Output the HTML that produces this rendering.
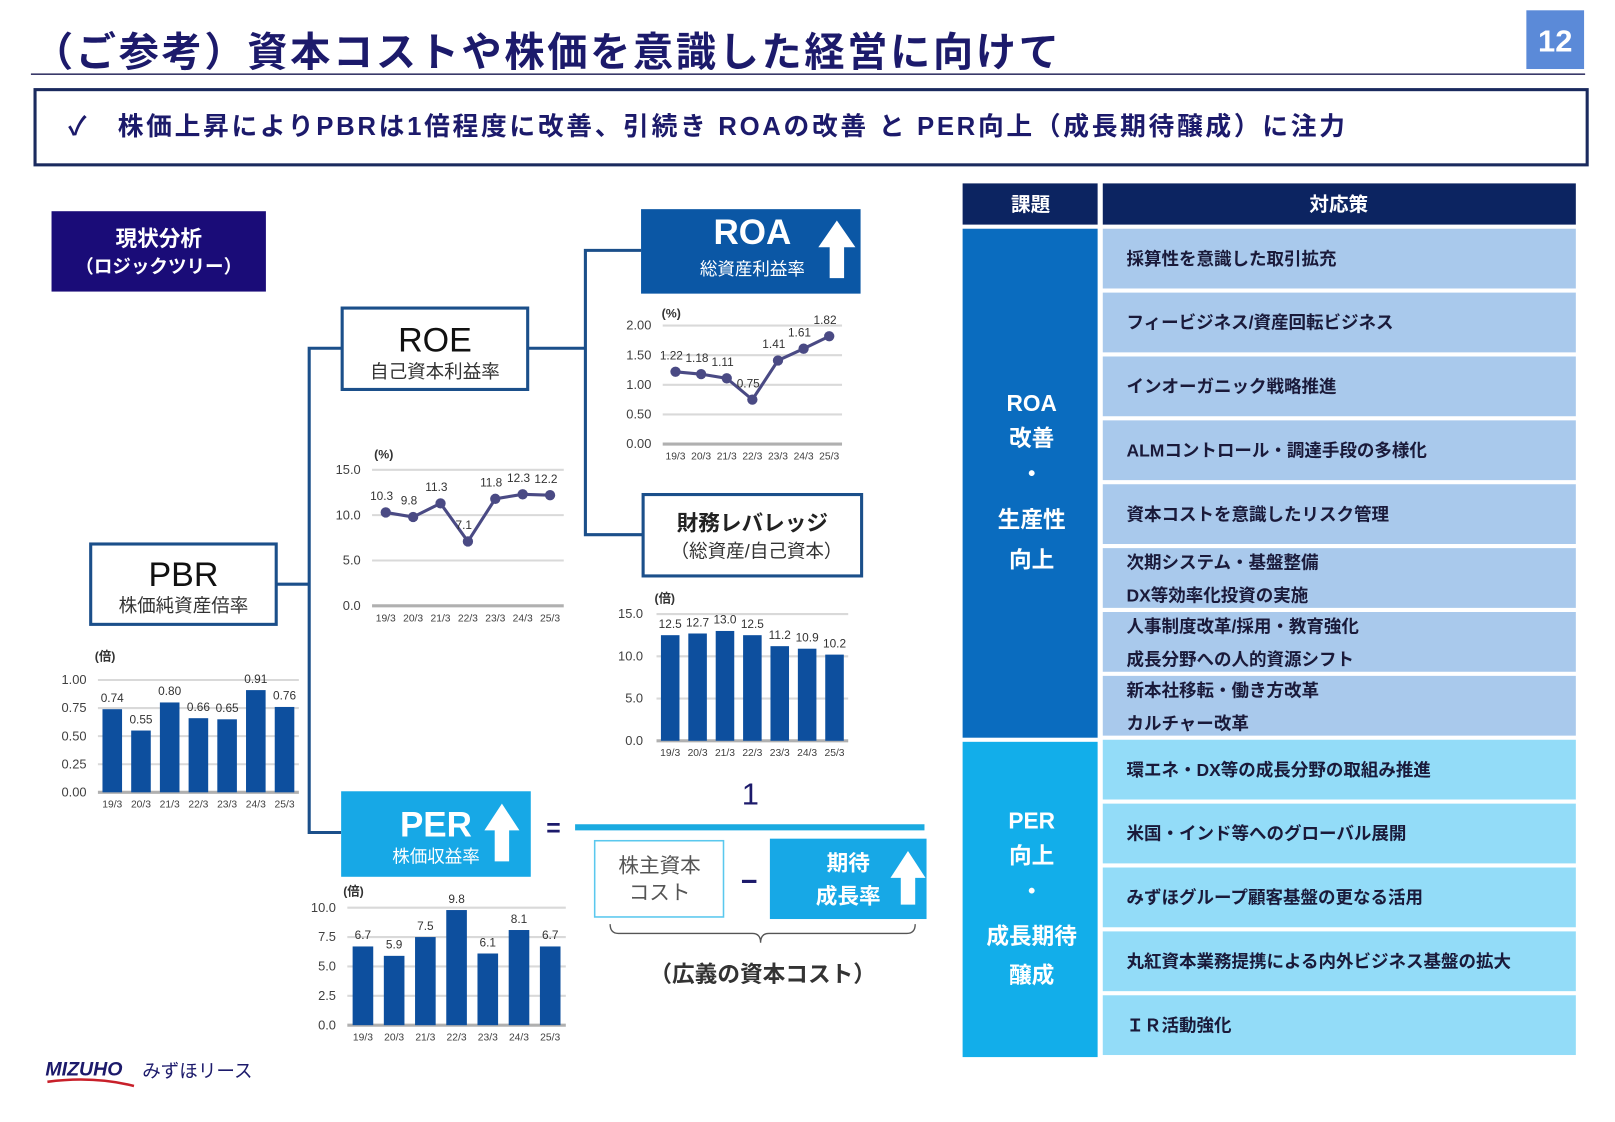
<!DOCTYPE html>
<html><head><meta charset="utf-8">
<style>
html,body{margin:0;padding:0;background:#fff;}
body{width:1615px;height:1122px;overflow:hidden;}
svg{display:block;font-family:"Liberation Sans","Noto Sans CJK JP",sans-serif;}
</style></head>
<body>
<svg id="root" width="1615" height="1122" viewBox="0 0 1567 1089" preserveAspectRatio="none" xmlns="http://www.w3.org/2000/svg">
  <!-- Title -->
  <text x="32" y="64" font-size="39" font-weight="bold" fill="#1c1a6b" letter-spacing="2.6">（ご参考）資本コストや株価を意識した経営に向けて</text>
  <line x1="30" y1="72" x2="1538" y2="72" stroke="#3a3a6a" stroke-width="1.5"/>
  <rect x="1481" y="10" width="56" height="57" fill="#5b8ad8"/>
  <text x="1509" y="50" font-size="30" font-weight="bold" fill="#fff" text-anchor="middle">12</text>

  <!-- Message -->
  <rect x="34" y="87" width="1506" height="73" fill="#fff" stroke="#1a2a5e" stroke-width="3"/>
  <text x="66" y="131" font-size="25" font-weight="bold" fill="#1c1a6b" letter-spacing="2.6">✓　株価上昇によりPBRは1倍程度に改善、引続き ROAの改善 と PER向上（成長期待醸成）に注力</text>

  <!-- Logic tree label -->
  <rect x="50" y="205" width="208" height="78" fill="#1a0c78"/>
  <text x="154" y="239" font-size="21" font-weight="bold" fill="#fff" text-anchor="middle">現状分析</text>
  <text x="154" y="265" font-size="18" font-weight="bold" fill="#fff" text-anchor="middle">（ロジックツリー）</text>

  <!-- connectors -->
  <g stroke="#1b4f8a" stroke-width="3" fill="none">
    <polyline points="269,567 300,567"/>
    <polyline points="331,338 300,338 300,808 331,808"/>
    <polyline points="513,338 568,338"/>
    <polyline points="622,243 568,243 568,519 623,519"/>
  </g>

  <!-- ROE -->
  <rect x="332" y="299" width="180" height="79" fill="#fff" stroke="#1b4f8a" stroke-width="3"/>
  <text x="422" y="341" font-size="33" fill="#111" text-anchor="middle">ROE</text>
  <text x="422" y="367" font-size="18" fill="#333" text-anchor="middle">自己資本利益率</text>

  <!-- ROA -->
  <rect x="622" y="203" width="213" height="82" fill="#0b57a5"/>
  <text x="730" y="237" font-size="34" font-weight="bold" fill="#fff" text-anchor="middle">ROA</text>
  <text x="730" y="267" font-size="17" fill="#fff" text-anchor="middle">総資産利益率</text>
  <path d="M812,214 L830,240 L819,240 L819,270 L805,270 L805,240 L794,240 Z" fill="#fff"/>

  <!-- Leverage -->
  <rect x="624" y="480" width="212" height="79" fill="#fff" stroke="#1b4f8a" stroke-width="3"/>
  <text x="730" y="515" font-size="21" font-weight="bold" fill="#222" text-anchor="middle">財務レバレッジ</text>
  <text x="734" y="541" font-size="18" fill="#333" text-anchor="middle">（総資産/自己資本）</text>

  <!-- PBR -->
  <rect x="88" y="528" width="180" height="78" fill="#fff" stroke="#1b4f8a" stroke-width="3"/>
  <text x="178" y="569" font-size="33" fill="#111" text-anchor="middle">PBR</text>
  <text x="178" y="594" font-size="18" fill="#333" text-anchor="middle">株価純資産倍率</text>

  <!-- PER -->
  <rect x="331" y="768" width="184" height="83" fill="#17a8e6"/>
  <text x="423" y="812" font-size="34" font-weight="bold" fill="#fff" text-anchor="middle">PER</text>
  <text x="423" y="837" font-size="17" fill="#fff" text-anchor="middle">株価収益率</text>
  <path d="M487,780 L504,806 L494,806 L494,836 L480,836 L480,806 L470,806 Z" fill="#fff"/>

  <text x="537" y="812" font-size="24" font-weight="bold" fill="#1c1a6b" text-anchor="middle">=</text>
  <text x="728" y="781" font-size="30" fill="#1c1a6b" text-anchor="middle">1</text>
  <line x1="558" y1="803" x2="897" y2="803" stroke="#1aaae0" stroke-width="6"/>
  <rect x="577" y="816" width="125" height="74" fill="#fff" stroke="#5ac8ee" stroke-width="1.5"/>
  <text x="640" y="847" font-size="20" fill="#555" text-anchor="middle">株主資本</text>
  <text x="640" y="873" font-size="20" fill="#555" text-anchor="middle">コスト</text>
  <text x="727" y="865" font-size="28" font-weight="bold" fill="#1c1a6b" text-anchor="middle">−</text>
  <rect x="747" y="814" width="152" height="78" fill="#17a8e6"/>
  <text x="823" y="845" font-size="21" font-weight="bold" fill="#fff" text-anchor="middle">期待</text>
  <text x="823" y="877" font-size="21" font-weight="bold" fill="#fff" text-anchor="middle">成長率</text>
  <path d="M881,826 L898,852 L888,852 L888,878 L874,878 L874,852 L864,852 Z" fill="#fff"/>
  <path d="M592,897 Q592,906 600,906 L730,906 Q738,906 738,915 Q738,906 746,906 L880,906 Q888,906 888,897" fill="none" stroke="#555" stroke-width="1.3"/>
  <text x="740" y="953" font-size="22" font-weight="bold" fill="#333" text-anchor="middle">（広義の資本コスト）</text>

  <!-- Right table -->
  <g>
    <rect x="934" y="178" width="131" height="40" fill="#0c2461"/>
    <rect x="1070" y="178" width="459" height="40" fill="#0c2461"/>
    <text x="1000" y="205" font-size="19" font-weight="bold" fill="#fff" text-anchor="middle">課題</text>
    <text x="1299" y="205" font-size="19" font-weight="bold" fill="#fff" text-anchor="middle">対応策</text>
    <rect x="934" y="222" width="131" height="494" fill="#0a6cbf"/>
    <rect x="934" y="720" width="131" height="306" fill="#12aeea"/>
    <g font-size="22" font-weight="bold" fill="#fff" text-anchor="middle">
      <text x="1001" y="399">ROA</text>
      <text x="1001" y="433">改善</text>
      <text x="1001" y="468">・</text>
      <text x="1001" y="512">生産性</text>
      <text x="1001" y="551">向上</text>
      <text x="1001" y="804">PER</text>
      <text x="1001" y="838">向上</text>
      <text x="1001" y="873">・</text>
      <text x="1001" y="916">成長期待</text>
      <text x="1001" y="954">醸成</text>
    </g>
    <g id="rows"></g>
  </g>

  <!-- Logo -->
  <g>
    <text x="44" y="1044" font-size="19" font-weight="bold" fill="#1c1a6b" font-style="italic">MIZUHO</text>
    <text x="138" y="1046" font-size="18" fill="#1c1a6b">みずほリース</text>
    <path d="M46,1050 Q90,1044 130,1054" stroke="#c8202a" stroke-width="2.5" fill="none"/>
  </g>

  <g id="charts"></g>
</svg>
<script>
// ---- Chart data ----
const years = ["19/3","20/3","21/3","22/3","23/3","24/3","25/3"];
const roaValues = [1.22, 1.18, 1.11, 0.75, 1.41, 1.61, 1.82];
const roaTicks = [0, 0.5, 1.0, 1.5, 2.0];
const roeValues = [10.3, 9.8, 11.3, 7.1, 11.8, 12.3, 12.2];
const roeTicks = [0, 5, 10, 15];
const leverageValues = [12.5, 12.7, 13.0, 12.5, 11.2, 10.9, 10.2];
const leverageTicks = [0, 5, 10, 15];
const pbrValues = [0.74, 0.55, 0.80, 0.66, 0.65, 0.91, 0.76];
const pbrTicks = [0, 0.25, 0.5, 0.75, 1.0];
const perValues = [6.7, 5.9, 7.5, 9.8, 6.1, 8.1, 6.7];
const perTicks = [0, 2.5, 5.0, 7.5, 10.0];

const measures = ["採算性を意識した取引拡充","フィービジネス/資産回転ビジネス","インオーガニック戦略推進","ALMコントロール・調達手段の多様化","資本コストを意識したリスク管理",["次期システム・基盤整備","DX等効率化投資の実施"],["人事制度改革/採用・教育強化","成長分野への人的資源シフト"],["新本社移転・働き方改革","カルチャー改革"],"環エネ・DX等の成長分野の取組み推進","米国・インド等へのグローバル展開","みずほグループ顧客基盤の更なる活用","丸紅資本業務提携による内外ビジネス基盤の拡大","ＩＲ活動強化"];

const NS = "http://www.w3.org/2000/svg";
function mk(tag, attrs, parent, txt){
  const e = document.createElementNS(NS, tag);
  for (const k in attrs) e.setAttribute(k, attrs[k]);
  if (txt !== undefined) e.textContent = txt;
  parent.appendChild(e);
  return e;
}

// table rows
const rowsG = document.getElementById('rows');
measures.forEach((m, i) => {
  const top = 222 + i * 62;
  const r = mk('rect', {x:1070, y:top, width:459, height:58, fill: i < 8 ? '#a9c9ec' : '#93dcf8'}, rowsG);
  
  
  if (Array.isArray(m)) {
    mk('text', {x:1093, y:top+20, 'font-size':17, 'font-weight':'bold', fill:'#1a1a3a'}, rowsG, m[0]);
    mk('text', {x:1093, y:top+52, 'font-size':17, 'font-weight':'bold', fill:'#1a1a3a'}, rowsG, m[1]);
  } else {
    mk('text', {x:1093, y:top+35, 'font-size':17, 'font-weight':'bold', fill:'#1a1a3a'}, rowsG, m);
  }
});

const chartsG = document.getElementById('charts');
function chart(name, o, cats, vals, ticks){
  const g = mk('g', {}, chartsG);
  
  
  const max = ticks[ticks.length-1];
  const n = cats.length, step = (o.x1 - o.x0) / n;
  const X = i => o.x0 + (i + 0.5) * step;
  const Y = v => o.yBot - v / max * (o.yBot - o.yTop);
  ticks.forEach((t, i) => {
    if (i > 0) mk('line', {x1:o.x0, x2:o.x1, y1:Y(t), y2:Y(t), stroke:'#d9d9d9', 'stroke-width':2}, g);
    const tl = mk('text', {x:o.lx, y:Y(t)+4, 'font-size':12.5, fill:'#404040', 'text-anchor':'end'}, g, t.toFixed(o.dec));
    
    
  });
  mk('line', {x1:o.x0, x2:o.x1, y1:o.yBot, y2:o.yBot, stroke:'#b0b0b0', 'stroke-width':3}, g);
  mk('text', {x:o.ux, y:o.uy, 'font-size':12, 'font-weight':'bold', fill:'#333'}, g, o.unit);
  cats.forEach((c, i) => {
    const cl = mk('text', {x:X(i), y:o.yBot+15, 'font-size':10, fill:'#404040', 'text-anchor':'middle'}, g, c);
    
    
  });
  if (o.type === 'bar') {
    vals.forEach((v, i) => {
      const b = mk('rect', {x:X(i)-o.bw/2, y:Y(v), width:o.bw, height:o.yBot-Y(v), fill:'#0d4f9e'}, g);
      
      
      mk('text', {x:X(i), y:Y(v)-7, 'font-size':11.5, fill:'#333', 'text-anchor':'middle'}, g, v.toFixed(o.vdec));
    });
  } else {
    const pts = vals.map((v, i) => X(i) + ',' + Y(v)).join(' ');
    const l = mk('polyline', {points:pts, fill:'none', stroke:'#4a4a84', 'stroke-width':3}, g);
    
    
    vals.forEach((v, i) => {
      const p = mk('circle', {cx:X(i), cy:Y(v), r:5, fill:'#4a4a84'}, g);
      
      
      mk('text', {x:X(i)-4, y:Y(v)-12, 'font-size':11.5, fill:'#333', 'text-anchor':'middle'}, g, v.toFixed(o.vdec));
    });
  }
}

chart('roa-chart', {x0:643, x1:817, yTop:316, yBot:431, lx:632, dec:2, vdec:2, type:'line', unit:'(%)', ux:642, uy:308}, years, roaValues, roaTicks);
chart('roe-chart', {x0:361, x1:547, yTop:456, yBot:588, lx:350, dec:1, vdec:1, type:'line', unit:'(%)', ux:363, uy:445}, years, roeValues, roeTicks);
chart('leverage-chart', {x0:637, x1:823, yTop:596, yBot:719, lx:624, dec:1, vdec:1, type:'bar', bw:18, unit:'(倍)', ux:635, uy:585}, years, leverageValues, leverageTicks);
chart('pbr-chart', {x0:95, x1:290, yTop:660, yBot:769, lx:84, dec:2, vdec:2, type:'bar', bw:19, unit:'(倍)', ux:92, uy:641}, years, pbrValues, pbrTicks);
chart('per-chart', {x0:337, x1:549, yTop:881, yBot:995, lx:326, dec:1, vdec:1, type:'bar', bw:20, unit:'(倍)', ux:333, uy:869}, years, perValues, perTicks);
</script>
</body></html>
